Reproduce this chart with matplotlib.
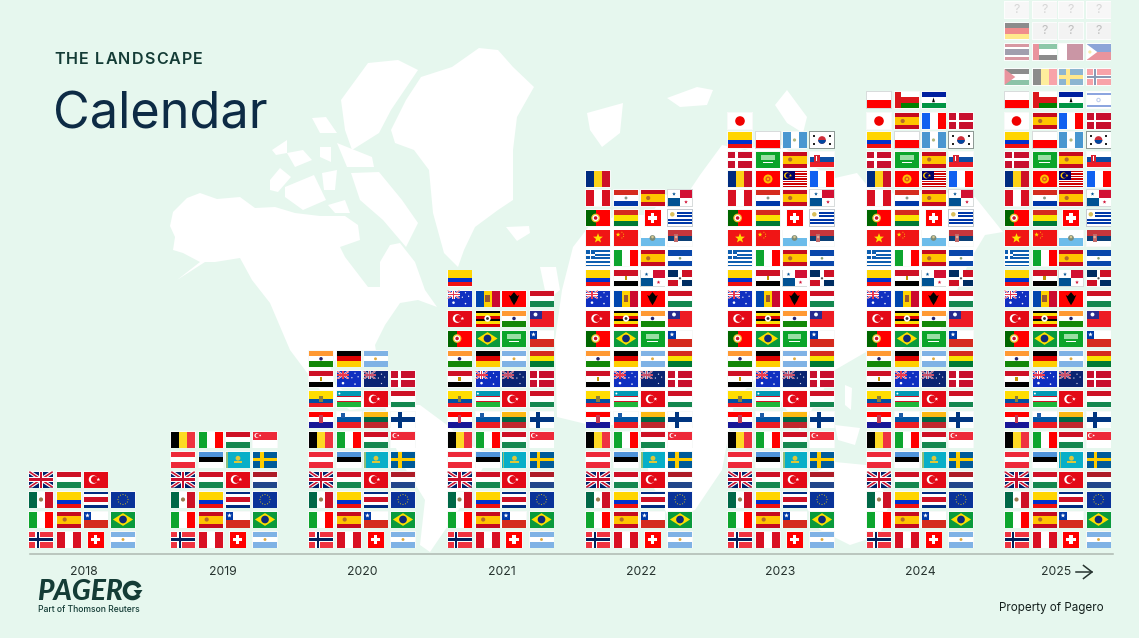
import math
import matplotlib
matplotlib.use('Agg')
import matplotlib.pyplot as plt
from matplotlib.patches import Circle, Polygon, Rectangle, Wedge
from matplotlib.colors import to_rgb

# one code per flag, bottom row first, as the flags were added over the years
ROW_FLAGS = [
    ['NO', 'PE', 'CH', 'AR'], ['IT', 'ES', 'CL', 'BR'], ['MX', 'CO', 'CR', 'EU'],
    ['GB', 'HU', 'TR', 'NL'], ['AT', 'EE', 'KZ', 'SE'], ['BE', 'IT', 'HU', 'SG'],
    ['HR', 'SI', 'LT', 'FI'], ['EC', 'UZ', 'TR', 'HU'], ['EG', 'AU', 'NZ', 'DK'],
    ['IN', 'DE', 'AR', 'BO'], ['PT', 'BR', 'SA', 'CL'], ['TR', 'UG', 'IN', 'TW'],
    ['AU', 'MD', 'AL', 'HU'], ['CO', 'EG', 'PA', 'DO'], ['GR', 'IT', 'ES', 'SV'],
    ['VN', 'CN', 'SM', 'RS'], ['PT', 'BO', 'CH', 'UY'], ['PE', 'PY', 'ES', 'PA'],
    ['RO', 'KG', 'MY', 'FR'], ['DK', 'SA', 'ES', 'SK'], ['CO', 'PL', 'GT', 'KR'],
    ['JP', 'ES', 'FR', 'DK'], ['PL', 'OM', 'LS', 'IL'],
]
PLANNED_ROWS = [
    ['JO', 'BE', 'SE', 'NO'], ['TH', 'AE', 'QA', 'PH'],
    ['DE', '??', '??', '??'], ['??', '??', '??', '??'],
]
YEARS = ['2018', '2019', '2020', '2021', '2022', '2023', '2024', '2025']
FLAG_COUNTS = [15, 24, 39, 53, 73, 85, 91, 91]

# layout, in pixels of the 1139x638 picture
YEAR_X = [41, 183, 321, 459.5, 598, 740, 879, 1016.5]
LABEL_X = [84, 223, 362, 502, 641, 780, 920, 1056]
COL_OFFSET = [0, 28, 54.5, 82]
ROW_Y = [539.5, 519.5, 499.5, 479.5, 459.5, 439.5, 419.5, 399, 379, 358.8, 338.5, 318.5,
         298.5, 278.3, 258.3, 238.3, 218, 198, 179, 159.5, 140, 121, 100]
PLANNED_Y = [77, 52, 31, 10]
PLANNED_FADE = [0.55, 0.55, 0.55, 0.72]
FLAG_W = 24
FLAG_H = 16

BACKGROUND = '#E6F7EE'
DARK_GREEN = '#143C36'

MAP_SHAPES = [
    # north america
    [(170, 226), (173, 212), (187, 198), (200, 193), (217, 199), (240, 197), (255, 208), (275, 207),
     (295, 213), (320, 216), (345, 216), (358, 225), (360, 240), (340, 247), (345, 257), (368, 287),
     (380, 287), (380, 262), (390, 245), (400, 243), (415, 262), (425, 290), (437, 307), (418, 300),
     (400, 303), (385, 325), (375, 345), (378, 362), (368, 350), (345, 352), (330, 365), (335, 385),
     (350, 395), (385, 405), (350, 410), (320, 390), (290, 350), (270, 303), (252, 280), (240, 258),
     (215, 262), (205, 262), (177, 280), (200, 262), (183, 253), (173, 250), (175, 237)],
    # greenland, iceland
    [(391, 130), (406, 100), (421, 77), (452, 67), (479, 48), (498, 50), (513, 67), (534, 87),
     (517, 117), (513, 150), (513, 200), (498, 210), (475, 227), (464, 250), (458, 267), (444, 253),
     (433, 213), (429, 170), (414, 150), (395, 143)],
    [(506, 227), (529, 226), (530, 233), (517, 241)],
    # arctic islands
    [(341, 100), (368, 63), (398, 60), (418, 70), (391, 110), (379, 133), (352, 150), (345, 130)],
    [(270, 180), (280, 168), (291, 177), (278, 192), (270, 190)],
    [(285, 187), (314, 175), (326, 200), (303, 210), (285, 197)],
    [(272, 150), (287, 140), (287, 153), (276, 155)],
    [(287, 153), (303, 150), (312, 160), (295, 167)],
    [(312, 118), (326, 117), (337, 133), (320, 133)],
    [(337, 143), (372, 157), (374, 167), (347, 167)],
    [(320, 147), (331, 147), (331, 162), (320, 157)],
    [(351, 173), (379, 172), (402, 200), (418, 223), (406, 247), (383, 220), (360, 200)],
    [(322, 173), (337, 170), (335, 190), (324, 190)],
    [(328, 205), (345, 200), (350, 213), (335, 213)],
    # south america
    [(385, 405), (420, 405), (447, 425), (470, 445), (490, 455), (465, 500), (445, 530), (430, 552),
     (420, 545), (425, 500), (400, 460), (390, 430)],
    # british isles, svalbard and other northern islands
    [(540, 267), (556, 267), (560, 290), (547, 300)],
    [(587, 113), (623, 103), (620, 133), (602, 147), (590, 130)],
    [(667, 98), (697, 87), (713, 90), (707, 105), (680, 107)],
    [(775, 105), (787, 90), (807, 117), (803, 133), (787, 123)],
    # eurasia and africa
    [(573, 247), (590, 225), (620, 215), (650, 215), (665, 195), (690, 190), (700, 175), (722, 145),
     (745, 150), (775, 140), (800, 160), (835, 178), (857, 173), (875, 195), (930, 190), (975, 197),
     (1003, 232), (985, 235), (970, 260), (940, 330), (900, 350), (866, 352), (835, 370), (800, 430),
     (780, 400), (760, 375), (735, 400), (722, 470), (695, 510), (670, 520), (650, 480), (640, 425),
     (590, 425), (557, 417), (555, 340), (562, 290)],
    # islands of south east asia and australia
    [(845, 385), (852, 388), (851, 410), (845, 405)],
    [(835, 425), (860, 428), (855, 445), (838, 440)],
    [(810, 475), (835, 462), (866, 465), (890, 500), (880, 535), (850, 545), (820, 530), (805, 505)],
]


def stripes_h(*colors, weights=None):
    weights = weights or [1] * len(colors)
    total, pos, out = sum(weights), 0, []
    for color, weight in zip(colors, weights):
        out.append(('r', 0, pos / total, 1, (pos + weight) / total, color))
        pos += weight
    return out


def stripes_v(*colors, weights=None):
    weights = weights or [1] * len(colors)
    total, pos, out = sum(weights), 0, []
    for color, weight in zip(colors, weights):
        out.append(('r', pos / total, 0, (pos + weight) / total, 1, color))
        pos += weight
    return out


def rect(u0, v0, u1, v1, color):
    return ('r', u0, v0, u1, v1, color)


def dot(u, v, r, color):
    return ('c', u, v, r, color)


def poly(points, color):
    return ('p', points, color)


def star(u, v, r, color):
    points = []
    for i in range(10):
        rr = r if i % 2 == 0 else r * 0.42
        a = -math.pi / 2 + i * math.pi / 5
        points.append((u + rr * math.cos(a) * FLAG_H / FLAG_W, v + rr * math.sin(a)))
    return poly(points, color)


def half_disc(u, v, r, color):
    # lower half, for the korean taegeuk
    points = []
    for i in range(13):
        a = i * math.pi / 12
        points.append((u + r * math.cos(a) * FLAG_H / FLAG_W, v + r * math.sin(a)))
    return poly(points, color)


def cross(u, color_out, color_in=None, t=0.2, bg=None):
    out = []
    if bg:
        out.append(rect(0, 0, 1, 1, bg))
    tu = t * FLAG_H / FLAG_W
    out += [rect(u - tu / 2, 0, u + tu / 2, 1, color_out), rect(0, 0.5 - t / 2, 1, 0.5 + t / 2, color_out)]
    if color_in:
        tu2 = tu / 2
        t2 = t / 2
        out += [rect(u - tu2 / 2, 0, u + tu2 / 2, 1, color_in), rect(0, 0.5 - t2 / 2, 1, 0.5 + t2 / 2, color_in)]
    return out


def jack(u1, v1, blue, red='#C8102E', white='#FFFFFF'):
    # union jack drawn in the box (0, 0)-(u1, v1)
    def diag(t, color):
        tu, tv = t * u1, t * v1
        a = [(0, 0), (tu, 0), (u1, v1 - tv), (u1, v1), (u1 - tu, v1), (0, tv)]
        b = [(u1, 0), (u1, tv), (tu, v1), (0, v1), (0, v1 - tv), (u1 - tu, 0)]
        return [poly(a, color), poly(b, color)]
    out = [rect(0, 0, u1, v1, blue)]
    out += diag(0.14, white) + diag(0.06, red)
    out += [rect(u1 * 0.41, 0, u1 * 0.59, v1, white), rect(0, v1 * 0.36, u1, v1 * 0.64, white)]
    out += [rect(u1 * 0.45, 0, u1 * 0.55, v1, red), rect(0, v1 * 0.42, u1, v1 * 0.58, red)]
    return out


def crescent(u, v, r, fg, bg):
    return [dot(u, v, r, fg), dot(u + r * 0.2, v, r * 0.8, bg)]


RED = '#E30A17'
WHITE = '#FFFFFF'

FLAGS = {
    'NO': [rect(0, 0, 1, 1, '#EF3340')] + cross(0.36, WHITE, '#00205B', t=0.28),
    'PE': stripes_v('#D91023', WHITE, '#D91023'),
    'CH': [rect(0, 0, 1, 1, '#FF0000'), rect(0.2, 0.39, 0.8, 0.61, WHITE), rect(0.39, 0.2, 0.61, 0.8, WHITE)],
    'AR': stripes_h('#7FB2E5', WHITE, '#7FB2E5') + [dot(0.5, 0.5, 0.09, '#E0A93C')],
    'IT': stripes_v('#0DA52E', WHITE, '#FF0000'),
    'ES': stripes_h('#C60B1E', '#FFC400', '#C60B1E', weights=[1, 2, 1]) + [dot(0.32, 0.5, 0.13, '#B5692A')],
    'CL': stripes_h(WHITE, '#D52B1E') + [rect(0, 0, 0.33, 0.5, '#0039A6'), star(0.165, 0.25, 0.15, WHITE)],
    'BR': [rect(0, 0, 1, 1, '#0A9A3C'), poly([(0.08, 0.5), (0.5, 0.1), (0.92, 0.5), (0.5, 0.9)], '#FEDF00'),
           dot(0.5, 0.5, 0.24, '#102A78')],
    'MX': stripes_v('#006847', WHITE, '#CE1126') + [dot(0.5, 0.5, 0.13, '#9A7A50')],
    'CO': stripes_h('#FFD500', '#0033CC', '#EE1111', weights=[2, 1, 1]),
    'CR': stripes_h('#002B7F', WHITE, '#CE1126', WHITE, '#002B7F', weights=[1, 1, 2, 1, 1]),
    'EU': [rect(0, 0, 1, 1, '#0A3399')] + [dot(0.5 + 0.21 * math.cos(i * math.pi / 6), 0.5 + 0.31 * math.sin(i * math.pi / 6),
                                              0.035, '#C8B72A') for i in range(12)],
    'GB': jack(1, 1, '#012169'),
    'HU': stripes_h('#CE1126', WHITE, '#14874F'),
    'TR': [rect(0, 0, 1, 1, RED)] + crescent(0.4, 0.5, 0.27, WHITE, RED) + [star(0.62, 0.5, 0.12, WHITE)],
    'NL': stripes_h('#AE1C28', WHITE, '#21468B'),
    'AT': stripes_h('#ED2939', WHITE, '#ED2939'),
    'EE': stripes_h('#4F94DA', '#000000', WHITE),
    'KZ': [rect(0, 0, 1, 1, '#08AFC8'), rect(0.03, 0, 0.1, 1, '#8FC07A'), dot(0.52, 0.42, 0.15, '#DCC83A'),
           rect(0.35, 0.62, 0.69, 0.7, '#DCC83A')],
    'SE': [rect(0, 0, 1, 1, '#005B99')] + cross(0.38, '#FECC00', t=0.22),
    'BE': stripes_v('#000000', '#FDDA24', '#EF3340'),
    'SG': stripes_h('#ED2939', WHITE) + crescent(0.16, 0.25, 0.15, WHITE, '#ED2939') + [dot(0.3, 0.25, 0.05, WHITE)],
    'HR': stripes_h('#FF0000', WHITE, '#171796') + [rect(0.42, 0.22, 0.58, 0.72, '#C8384E')],
    'SI': stripes_h(WHITE, '#0056A3', '#ED1C24') + [rect(0.18, 0.12, 0.34, 0.42, '#1B5CA8')],
    'LT': stripes_h('#FDB913', '#006A44', '#C1272D'),
    'FI': [rect(0, 0, 1, 1, WHITE)] + cross(0.36, '#003580', t=0.26),
    'EC': stripes_h('#FFDD00', '#034EA2', '#ED1C24', weights=[2, 1, 1]) + [rect(0.42, 0.3, 0.58, 0.7, '#8A7D3C')],
    'UZ': stripes_h('#0099B5', '#CE1126', WHITE, '#CE1126', '#1EB53A', weights=[8, 1, 8, 1, 8]) +
          [dot(0.1, 0.16, 0.06, WHITE)],
    'EG': stripes_h('#CE1126', WHITE, '#000000') + [rect(0.44, 0.38, 0.56, 0.62, '#C09300')],
    'AU': jack(0.5, 0.5, '#0F2FC0', '#E8384F') +
          [rect(0.5, 0, 1, 0.5, '#0F2FC0'), rect(0, 0.5, 1, 1, '#0F2FC0'), dot(0.25, 0.76, 0.08, WHITE),
           dot(0.75, 0.14, 0.04, WHITE), dot(0.75, 0.82, 0.05, WHITE), dot(0.62, 0.42, 0.04, WHITE), dot(0.88, 0.36, 0.04, WHITE)],
    'NZ': jack(0.5, 0.5, '#0A2472', '#C8506A', '#C0C4DC') +
          [rect(0.5, 0, 1, 0.5, '#0A2472'), rect(0, 0.5, 1, 1, '#0A2472'), dot(0.75, 0.2, 0.04, '#E0E0F0'),
           dot(0.75, 0.78, 0.04, '#E0E0F0'), dot(0.62, 0.44, 0.04, '#E0E0F0'), dot(0.88, 0.38, 0.04, '#E0E0F0')],
    'DK': [rect(0, 0, 1, 1, '#C8102E')] + cross(0.36, WHITE, t=0.16),
    'IN': stripes_h('#FF9933', WHITE, '#138808') + [dot(0.5, 0.5, 0.11, '#23236E')],
    'DE': stripes_h('#000000', '#DD0000', '#FFCE00'),
    'BO': stripes_h('#D52B1E', '#F9E300', '#007934'),
    'PT': [rect(0, 0, 0.4, 1, '#006600'), rect(0.4, 0, 1, 1, '#FF0000'), dot(0.4, 0.5, 0.27, '#F2C230'),
           dot(0.4, 0.5, 0.19, WHITE), dot(0.4, 0.5, 0.11, '#C8102E')],
    'SA': [rect(0, 0, 1, 1, '#0BA52A'), rect(0.22, 0.2, 0.78, 0.55, '#9ADFA4'), rect(0.28, 0.68, 0.72, 0.74, WHITE)],
    'UG': stripes_h('#000000', '#FCDC04', '#D90000', '#000000', '#FCDC04', '#D90000') +
          [dot(0.5, 0.5, 0.2, WHITE), dot(0.5, 0.5, 0.09, '#333333')],
    'TW': [rect(0, 0, 1, 1, '#ED1C24'), rect(0, 0, 0.5, 0.5, '#2A2A8E'), dot(0.25, 0.25, 0.12, WHITE)],
    'MD': stripes_v('#0046AE', '#FFD200', '#CC092F') + [rect(0.41, 0.28, 0.59, 0.72, '#9A5A30')],
    'AL': [rect(0, 0, 1, 1, '#FF0000'), poly([(0.5, 0.1), (0.64, 0.35), (0.72, 0.28), (0.62, 0.62), (0.5, 0.92),
                                              (0.38, 0.62), (0.28, 0.28), (0.36, 0.35)], '#000000')],
    'PA': [rect(0, 0, 1, 1, WHITE), rect(0.5, 0, 1, 0.5, '#D21034'), rect(0, 0.5, 0.5, 1, '#005293'),
           star(0.25, 0.25, 0.12, '#005293'), star(0.75, 0.75, 0.12, '#D21034')],
    'DO': [rect(0, 0, 1, 1, WHITE), rect(0, 0, 0.42, 0.39, '#002D62'), rect(0.58, 0, 1, 0.39, '#CE1126'),
           rect(0, 0.61, 0.42, 1, '#CE1126'), rect(0.58, 0.61, 1, 1, '#002D62'), dot(0.5, 0.5, 0.07, '#555555')],
    'GR': stripes_h('#0D5EAF', WHITE, '#0D5EAF', WHITE, '#0D5EAF', WHITE, '#0D5EAF', WHITE, '#0D5EAF') +
          [rect(0, 0, 0.37, 0.55, '#0D5EAF'), rect(0.15, 0, 0.22, 0.55, WHITE), rect(0, 0.22, 0.37, 0.33, WHITE)],
    'SV': stripes_h('#0A47AB', WHITE, '#0A47AB') + [dot(0.5, 0.5, 0.08, '#8AA070')],
    'VN': [rect(0, 0, 1, 1, '#F01515'), star(0.5, 0.5, 0.32, '#FFE000')],
    'CN': [rect(0, 0, 1, 1, '#F01515'), star(0.17, 0.27, 0.15, '#FFDE00'), dot(0.33, 0.12, 0.03, '#FFDE00'),
           dot(0.4, 0.24, 0.03, '#FFDE00'), dot(0.4, 0.38, 0.03, '#FFDE00'), dot(0.33, 0.48, 0.03, '#FFDE00')],
    'SM': stripes_h(WHITE, '#6CBCEA') + [dot(0.5, 0.48, 0.18, '#7A8C7A'), dot(0.5, 0.42, 0.08, '#D8C890')],
    'RS': stripes_h('#C6363C', '#0C4076', WHITE) + [rect(0.26, 0.2, 0.42, 0.72, '#C06A6A'), dot(0.34, 0.42, 0.08, '#D8B0A0')],
    'UY': stripes_h(WHITE, '#0038A8', WHITE, '#0038A8', WHITE, '#0038A8', WHITE, '#0038A8', WHITE) +
          [rect(0, 0, 0.37, 0.55, WHITE), dot(0.18, 0.27, 0.14, '#D8BE5A')],
    'PY': stripes_h('#D52B1E', WHITE, '#0038A8') + [dot(0.5, 0.5, 0.09, '#8A9A8A')],
    'RO': stripes_v('#002B7F', '#FCD116', '#CE1126'),
    'KG': [rect(0, 0, 1, 1, '#FF0000'), dot(0.5, 0.5, 0.28, '#FFC000'), dot(0.5, 0.5, 0.16, '#E8551A'), dot(0.5, 0.5, 0.07, '#FFC000')],
    'MY': stripes_h('#CC0001', WHITE, '#CC0001', WHITE, '#CC0001', WHITE, '#CC0001', WHITE, '#CC0001', WHITE, '#CC0001', WHITE, '#CC0001') +
          [rect(0, 0, 0.5, 0.56, '#010066')] + crescent(0.19, 0.28, 0.19, '#FFCC00', '#010066') + [star(0.33, 0.28, 0.1, '#FFCC00')],
    'FR': stripes_v('#1060F0', WHITE, '#FF0000'),
    'SK': stripes_h(WHITE, '#0B4EA2', '#EE1C25') + [rect(0.18, 0.2, 0.4, 0.72, '#D82030'), rect(0.27, 0.3, 0.31, 0.6, WHITE)],
    'PL': stripes_h(WHITE, '#FF0000'),
    'GT': stripes_v('#4997D0', WHITE, '#4997D0') + [dot(0.5, 0.5, 0.1, '#B0B880')],
    'KR': [rect(0, 0, 1, 1, WHITE), dot(0.5, 0.5, 0.24, '#CD2E3A'), half_disc(0.5, 0.5, 0.24, '#0047A0'),
           rect(0.14, 0.2, 0.22, 0.32, '#222222'), rect(0.78, 0.2, 0.86, 0.32, '#222222'),
           rect(0.14, 0.68, 0.22, 0.8, '#222222'), rect(0.78, 0.68, 0.86, 0.8, '#222222')],
    'JP': [rect(0, 0, 1, 1, WHITE), dot(0.5, 0.5, 0.3, '#F00000')],
    'OM': stripes_h(WHITE, '#DB161B', '#008000') + [rect(0, 0, 0.27, 1, '#DB161B')],
    'LS': stripes_h('#00209F', WHITE, '#009543') + [poly([(0.44, 0.64), (0.5, 0.34), (0.56, 0.64)], '#000000')],
    'IL': [rect(0, 0, 1, 1, WHITE), rect(0, 0.05, 1, 0.2, '#0038B8'), rect(0, 0.8, 1, 0.95, '#0038B8'),
           dot(0.5, 0.5, 0.14, '#6E92D8'), dot(0.5, 0.5, 0.07, WHITE)],
    'JO': stripes_h('#000000', WHITE, '#007A3D') + [poly([(0, 0), (0.45, 0.5), (0, 1)], '#CE1126')],
    'TH': stripes_h('#A51931', WHITE, '#2D2A4A', WHITE, '#A51931', weights=[1, 1, 2, 1, 1]),
    'AE': stripes_h('#00843D', WHITE, '#000000') + [rect(0, 0, 0.25, 1, '#CE1126')],
    'QA': stripes_v(WHITE, '#8A1538', weights=[1, 2]),
    'PH': stripes_h('#0038A8', '#CE1126') + [poly([(0, 0), (0.45, 0.5), (0, 1)], WHITE), dot(0.14, 0.5, 0.1, '#F0D040')],
    '??': [rect(0, 0, 1, 1, '#E4E4E4'), ('t', 0.5, 0.5, '?', '#707070')],
}
FLAG_EDGE = {'KR': '#8E9A96', 'UY': '#C4CAD0', 'PA': '#D8DCDC', 'PL': '#D8DCDC'}
SQUARE_FLAGS = ['CH']


def fade_color(color, fade):
    r, g, b = to_rgb(color)
    return (r + (1 - r) * fade, g + (1 - g) * fade, b + (1 - b) * fade)


def draw_flag(ax, code, cx, cy, fade=0.0):
    w = FLAG_H if code in SQUARE_FLAGS else FLAG_W
    x0, y0 = cx - w / 2, cy - FLAG_H / 2

    def px(u, v):
        return x0 + u * w, y0 + v * FLAG_H

    edge = FLAG_EDGE.get(code, '#F7F9F8')
    ax.add_patch(Rectangle((x0 - 0.6, y0 - 0.6), w + 1.2, FLAG_H + 1.2, fc=fade_color(edge, fade), ec='none', zorder=3))
    for item in FLAGS[code]:
        kind = item[0]
        if kind == 'r':
            xa, ya = px(item[1], item[2])
            xb, yb = px(item[3], item[4])
            patch = Rectangle((xa, ya), xb - xa, yb - ya, fc=fade_color(item[5], fade), ec='none', zorder=4)
            ax.add_patch(patch)
        elif kind == 'c':
            xa, ya = px(item[1], item[2])
            ax.add_patch(Circle((xa, ya), item[3] * FLAG_H, fc=fade_color(item[4], fade), ec='none', zorder=4))
        elif kind == 'p':
            ax.add_patch(Polygon([px(u, v) for u, v in item[1]], closed=True, fc=fade_color(item[2], fade), ec='none', zorder=4))
        elif kind == 't':
            xa, ya = px(item[1], item[2])
            ax.text(xa, ya, item[3], fontsize=9, color=fade_color(item[4], fade), ha='center', va='center',
                    family='Inter', zorder=5)


def spaced_text(ax, x, y, text, spacing, **kwargs):
    # matplotlib has no letter spacing, so place the letters one at a time
    renderer = ax.figure.canvas.get_renderer()

    def width(s):
        probe = ax.text(0, 0, s + '|', **kwargs)
        w = probe.get_window_extent(renderer).width
        probe.remove()
        return w

    bar = width('')
    for i, letter in enumerate(text):
        offset = width(text[:i]) - bar + i * spacing
        ax.text(x + offset, y, letter, ha='left', va='center', **kwargs)


def draw_logo(ax):
    ax.text(37.5, 600.5, 'PAGER', fontsize=20.2, family='Lato', weight='black', style='italic',
            color=DARK_GREEN, va='baseline', ha='left')
    ax.add_patch(Wedge((132.5, 590.5), 9.8, 35, 335, width=4.4, fc=DARK_GREEN, ec='none'))
    ax.add_patch(Polygon([(133.5, 590), (142.5, 590), (138.5, 596)], closed=True, fc=DARK_GREEN, ec='none'))


def main():
    fig = plt.figure(figsize=(11.39, 6.38), dpi=100, facecolor=BACKGROUND)
    ax = fig.add_axes([0, 0, 1, 1])
    ax.set_xlim(0, 1139)
    ax.set_ylim(638, 0)
    ax.axis('off')

    for shape in MAP_SHAPES:
        ax.add_patch(Polygon(shape, closed=True, fc='white', ec='none', zorder=1))

    for year_x, count in zip(YEAR_X, FLAG_COUNTS):
        for i in range(count):
            row, col = divmod(i, 4)
            draw_flag(ax, ROW_FLAGS[row][col], year_x + COL_OFFSET[col], ROW_Y[row])

    # 2025 also has the flags still to come
    draw_flag(ax, ROW_FLAGS[22][3], YEAR_X[-1] + COL_OFFSET[3], ROW_Y[22], fade=0.55)
    for codes, y, fade in zip(PLANNED_ROWS, PLANNED_Y, PLANNED_FADE):
        for col, code in enumerate(codes):
            draw_flag(ax, code, YEAR_X[-1] + COL_OFFSET[col], y, fade=fade)

    ax.plot([30, 1113], [553.5, 553.5], color='#AEB9B1', lw=1.1, zorder=2)
    for label, x in zip(YEARS, LABEL_X):
        ax.text(x, 572, label, fontsize=8.8, family='Inter', color='#26332F', ha='center', va='center')
    ax.plot([1076, 1092], [572, 572], color='#26332F', lw=1.1)
    ax.plot([1083.5, 1092, 1083.5], [565.5, 572, 578.5], color='#26332F', lw=1.1)

    spaced_text(ax, 54, 59.5, 'THE LANDSCAPE', 1.2, fontsize=11.6, family='Inter', weight='semibold', color=DARK_GREEN)
    ax.text(53, 115, 'Calendar', fontsize=36.3, family='Inter', color='#0D2B45', ha='left', va='center')

    draw_logo(ax)
    ax.text(38, 609.5, 'Part of Thomson Reuters', fontsize=6.2, family='Inter', weight='medium', color=DARK_GREEN,
            ha='left', va='center')
    ax.text(999, 607.5, 'Property of Pagero', fontsize=8.4, family='Inter', color='#14201D', ha='left', va='center')

    fig.savefig('out.png', dpi=100, facecolor=BACKGROUND)


if __name__ == '__main__':
    main()
